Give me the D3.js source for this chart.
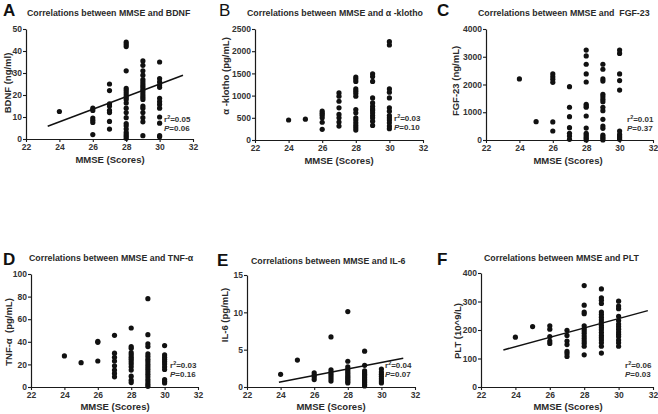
<!DOCTYPE html>
<html><head><meta charset="utf-8">
<script src="https://cdn.jsdelivr.net/npm/d3@7"></script>
<style>body{margin:0;background:#fff}svg{display:block}text{font-family:"Liberation Sans",Arial,sans-serif;white-space:pre}</style>
</head><body><svg id="c" width="658" height="414"></svg>
<script>
const scores = [24, 25, 26, 27, 28, 29, 30];
const xTicks = [22, 24, 26, 28, 30, 32];

const bdnf = [
  [12.5], [],
  [14, 13, 9.5, 8.5, 7.5, 2],
  [25, 22, 16, 15, 13, 12, 8, 4.5],
  [44, 43, 42, 31, 23, 22, 21, 20, 19, 18, 16.4, 14, 12, 9.7, 7, 6, 4.5, 3, 2, 1.2, 0.3],
  [35.5, 33.5, 31, 29, 27, 26, 25, 24, 23, 22, 21, 20, 19, 18, 15, 14, 12, 9.7, 7.8, 1.5],
  [35, 27.5, 26, 24.5, 23.5, 18.5, 17, 15.7, 14, 10, 7.2, 1.5, 1]
];
const klotho = [
  [450], [470],
  [650, 600, 560, 500, 400, 240],
  [1060, 985, 873, 724, 575, 500, 403, 313],
  [1417, 1373, 1320, 1150, 1100, 1045, 985, 686, 612, 500, 448, 388, 328, 276, 224],
  [1490, 1430, 1320, 947, 835, 760, 700, 664, 612, 552, 500, 425, 328],
  [2215, 2140, 1150, 1075, 947, 724, 650, 552, 500, 448, 388, 313, 254]
];
const fgf23 = [
  [2200], [660],
  [2380, 2280, 2190, 2080, 650, 325],
  [1920, 1180, 840, 445, 240, 145, 25],
  [3240, 3030, 2730, 2380, 2090, 1285, 1225, 1180, 865, 430, 240, 180, 120, 60, 0],
  [2730, 2550, 2200, 2125, 1645, 1560, 1465, 1380, 1180, 1055, 745, 505, 420, 180, 120, 60, 0],
  [3240, 3120, 2380, 2140, 1800, 325, 205, 145, 85, 25]
];
const tnf = [
  [27.5], [21.5],
  [40.5, 39.5, 23],
  [45.7, 29.9, 26.3, 23, 18.8, 15, 12, 9],
  [52.2, 35.8, 34.3, 30.4, 28.4, 26.3, 24.5, 22.4, 20.3, 17.9, 15, 9.6, 6, 3.9],
  [78.2, 46.3, 38.2, 35.8, 29.3, 26.9, 24.5, 22.4, 20, 17.9, 15.8, 13.4, 11.3, 9, 6.6, 4.5, 2.4, 0.6],
  [36.7, 28.4, 26.3, 24.5, 22.4, 20.3, 17.9, 15.5, 6.6, 5.1, 3.6]
];
const il6 = [
  [1.7], [3.6],
  [1.9, 1.6, 1.35, 1.0],
  [6.7, 2.3, 2.0, 1.7, 1.4, 1.1, 0.8],
  [10.1, 3.45, 2.7, 2.4, 2.15, 1.9, 1.65, 1.4, 1.2, 1.0, 0.75, 0.55],
  [4.8, 2.9, 2.15, 1.9, 1.7, 1.5, 1.25, 1.0, 0.8, 0.6, 0.35, 0.15],
  [2.4, 2.0, 1.7, 1.4, 1.1, 0.8, 0.55]
];
const plt = [
  [175], [212],
  [215, 203, 177, 161, 153],
  [199, 181, 161, 149, 125, 117, 107],
  [356, 287, 263, 257, 215, 205, 197, 189, 179, 170, 161, 153, 143, 113],
  [344, 313, 304, 293, 263, 254, 245, 236, 227, 217, 209, 201, 191, 181, 173, 165, 155, 143, 119],
  [301, 284, 275, 248, 233, 221, 212, 203, 193, 185, 177, 165, 155, 143]
];

const fitBDNF = [[23.3, 5.8], [31.4, 29]];
const fitIL6 = [[23.9, 0.65], [31.3, 3.85]];
const fitPLT = [[23.3, 130], [31.7, 268]];

const titles = ["Correlations between MMSE and BDNF", "Correlations between MMSE and α -klotho",
  "Correlations between MMSE and  FGF-23", "Correlations between MMSE and TNF-α",
  "Correlations between MMSE and IL-6", "Correlations between MMSE and PLT"];
const letters = ["A", "B", "C", "D", "E", "F"];
const yTitles = ["BDNF (ng/ml)", "α -klotho (pg/mL)", "FGF-23 (ng/mL)", "TNF-α  (pg/mL)", "IL-6 (pg/mL)", "PLT (10^9/L)"];
const yTicksAll = [[0, 10, 20, 30, 40, 50], [0, 500, 1000, 1500, 2000, 2500], [0, 1000, 2000, 3000, 4000],
  [0, 20, 40, 60, 80, 100], [0, 5, 10, 15], [0, 100, 200, 300, 400]];
const r2 = ["0.05", "0.03", "0.01", "0.03", "0.04", "0.06"];
const pv = ["0.06", "0.10", "0.37", "0.16", "0.07", "0.03"];
const series = [bdnf, klotho, fgf23, tnf, il6, plt];
const fits = [fitBDNF, null, null, null, fitIL6, fitPLT];

// layout
const L = [
  {l: 26, r: 193, t: 29, b: 139, tx: 27, ty: 16, lx: 3, ly: 16, lw: "bold", ytx: 8, yty: 83, sx: 164, sy: 122, mx: 110, my: 163},
  {l: 255, r: 423, t: 29, b: 140, tx: 247, ty: 16, lx: 219, ly: 16, lw: "normal", ytx: 226, yty: 76, sx: 394, sy: 121, mx: 339, my: 164},
  {l: 486, r: 653, t: 29, b: 140, tx: 478, ty: 16, lx: 437, ly: 16, lw: "bold", ytx: 456, yty: 81, sx: 627, sy: 122, mx: 568, my: 164},
  {l: 31, r: 198, t: 274, b: 387, tx: 29, ty: 261, lx: 3, ly: 265, lw: "bold", ytx: 9, yty: 332, sx: 170, sy: 368, mx: 115, my: 410},
  {l: 247, r: 415, t: 275, b: 387, tx: 251, ty: 264, lx: 217, ly: 266, lw: "bold", ytx: 225, yty: 315, sx: 385, sy: 368, mx: 331, my: 410},
  {l: 481, r: 653, t: 273, b: 387, tx: 484, ty: 261, lx: 437, ly: 265, lw: "bold", ytx: 458, yty: 331, sx: 625, sy: 368, mx: 568, my: 410}
];

const svg = d3.select("#c");
const ink = "#1a1a1a";

series.forEach((data, i) => {
  const g = L[i];
  const yT = yTicksAll[i];
  const x = d3.scaleLinear().domain([22, 32]).range([g.l, g.r]);
  const y = d3.scaleLinear().domain([0, yT[yT.length - 1]]).range([g.b, g.t]);
  const p = svg.append("g");

  const xa = p.append("g").attr("transform", `translate(0,${g.b})`)
    .call(d3.axisBottom(x).tickValues(xTicks).tickFormat(d3.format("d")).tickSize(3).tickPadding(2).tickSizeOuter(0));
  const ya = p.append("g").attr("transform", `translate(${g.l},0)`)
    .call(d3.axisLeft(y).tickValues(yT).tickFormat(d3.format("d")).tickSize(3).tickPadding(1).tickSizeOuter(0));
  [xa, ya].forEach(a => {
    a.select(".domain").attr("stroke", ink).attr("stroke-width", 1.2);
    a.selectAll(".tick line").attr("stroke", ink).attr("stroke-width", 1.1);
    a.selectAll(".tick text").attr("fill", "#333").attr("font-size", 8.5).attr("font-weight", "bold")
      .attr("font-family", "Liberation Sans, Arial, sans-serif");
  });

  const pts = [];
  data.forEach((vals, k) => vals.forEach(v => pts.push([scores[k], v])));
  p.selectAll("circle").data(pts).join("circle")
    .attr("cx", d => x(d[0])).attr("cy", d => y(d[1])).attr("r", 2.6).attr("fill", "#111");

  if (fits[i]) {
    p.append("path").attr("d", d3.line().x(d => x(d[0])).y(d => y(d[1]))(fits[i]))
      .attr("stroke", "#111").attr("stroke-width", 1.5).attr("fill", "none");
  }

  p.append("text").attr("x", g.tx).attr("y", g.ty)
    .attr("font-size", 8.8).attr("font-weight", "bold").attr("fill", "#2a2a2a").text(titles[i]);
  p.append("text").attr("x", g.lx).attr("y", g.ly).attr("font-size", 17).attr("font-weight", g.lw)
    .attr("fill", "#111").text(letters[i]);
  p.append("text").attr("transform", `translate(${g.ytx},${g.yty}) rotate(-90)`).attr("text-anchor", "middle")
    .attr("dy", "0.35em").attr("font-size", 9.5).attr("font-weight", "bold").attr("fill", "#2a2a2a").text(yTitles[i]);
  p.append("text").attr("x", g.mx).attr("y", g.my).attr("text-anchor", "middle")
    .attr("font-size", 9.5).attr("font-weight", "bold").attr("fill", "#2a2a2a").text("MMSE (Scores)");

  const st = p.append("text").attr("x", g.sx).attr("y", g.sy).attr("font-size", 8).attr("font-weight", "bold").attr("fill", "#333");
  st.append("tspan").text("r");
  st.append("tspan").attr("dy", -3).attr("font-size", 5.5).text("2");
  st.append("tspan").attr("dy", 3).text("=" + r2[i]);
  const sp = p.append("text").attr("x", g.sx).attr("y", g.sy + 9).attr("font-size", 8).attr("font-weight", "bold").attr("fill", "#333");
  sp.append("tspan").attr("font-style", "italic").text("P");
  sp.append("tspan").text("=" + pv[i]);
});
</script></body></html>
